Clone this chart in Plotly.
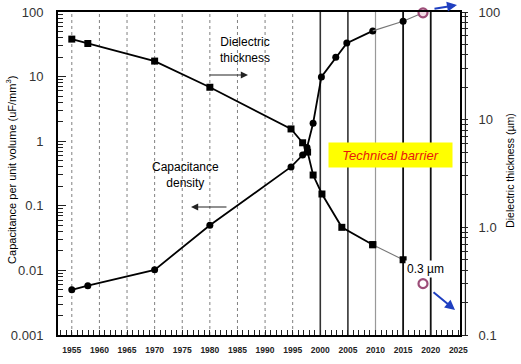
import plotly.graph_objects as go

# ---- data ----
cap_years = [1955, 1957.9, 1970, 1980, 1994.7, 1996.8, 1997.6, 1998.7, 2000.2, 2002.8, 2004.8, 2009.5]
cap_values = [0.005, 0.0058, 0.0102, 0.05, 0.40, 0.61, 0.80, 1.9, 9.9, 20, 33, 51]
cap_late_years = [2009.5, 2015, 2018.6]
cap_late_values = [51, 72, 97]

thk_years = [1955, 1957.9, 1970, 1980, 1994.7, 1996.8, 1997.7, 1998.7, 2000.3, 2003.9, 2009.5]
thk_values = [56, 51, 35, 20, 8.2, 6.1, 5.0, 3.06, 2.04, 1.0, 0.69]
thk_late_years = [2009.5, 2015]
thk_late_values = [0.69, 0.50]

proj_year = [2018.6]
proj_cap = [97]
proj_thk = [0.30]

x_ticks = list(range(1955, 2030, 5))
left_tickvals = [0.001, 0.01, 0.1, 1, 10, 100]
left_ticktext = ["0.001", "0.01", "0.1", "1", "10", "100"]
right_tickvals = [0.1, 1, 10, 100]
right_ticktext = ["0.1", "1.0", "10", "100"]

minor_left = [m * 10 ** e for e in range(-3, 2) for m in range(2, 10)]
minor_right = [m * 10 ** e for e in range(-1, 2) for m in range(2, 10)]

fig = go.Figure()

# capacitance density (left axis)
fig.add_trace(go.Scatter(x=cap_years, y=cap_values, mode="lines+markers",
                         line=dict(color="black", width=1.8),
                         marker=dict(symbol="circle", size=7, color="black"),
                         yaxis="y", showlegend=False))
fig.add_trace(go.Scatter(x=cap_late_years, y=cap_late_values, mode="lines",
                         line=dict(color="#777777", width=1.1),
                         yaxis="y", showlegend=False))
fig.add_trace(go.Scatter(x=cap_late_years[1:2], y=cap_late_values[1:2], mode="markers",
                         marker=dict(symbol="circle", size=7, color="black"),
                         yaxis="y", showlegend=False))

# dielectric thickness (right axis)
fig.add_trace(go.Scatter(x=thk_years, y=thk_values, mode="lines+markers",
                         line=dict(color="black", width=1.8),
                         marker=dict(symbol="square", size=7, color="black"),
                         yaxis="y2", showlegend=False))
fig.add_trace(go.Scatter(x=thk_late_years, y=thk_late_values, mode="lines+markers",
                         line=dict(color="#777777", width=1.1),
                         marker=dict(symbol="square", size=7, color="black"),
                         yaxis="y2", showlegend=False))

# projections (open pink circles)
fig.add_trace(go.Scatter(x=proj_year, y=proj_cap, mode="markers",
                         marker=dict(symbol="circle", size=9, color="#f3dbe6",
                                     line=dict(color="#9c4d78", width=2.2)),
                         yaxis="y", showlegend=False, cliponaxis=False))
fig.add_trace(go.Scatter(x=proj_year, y=proj_thk, mode="markers",
                         marker=dict(symbol="circle", size=9, color="white",
                                     line=dict(color="#9c4d78", width=2.2)),
                         yaxis="y2", showlegend=False))

# vertical grid lines
shapes = []
for yr in x_ticks[:-1]:
    if yr <= 1995:
        style = dict(color="#808080", width=1, dash="dot")
    elif yr == 2010:
        style = dict(color="#999999", width=1.2)
    elif yr in (2000, 2005):
        style = dict(color="#333333", width=1.6)
    else:
        style = dict(color="#111111", width=1.8)
    shapes.append(dict(type="line", xref="x", yref="paper", x0=yr, x1=yr, y0=0, y1=1,
                       line=style, layer="below"))
# outer rail of the right-hand ladder axis
shapes.append(dict(type="line", xref="paper", yref="paper", x0=1.0135, x1=1.0135, y0=0, y1=1,
                   line=dict(color="#222222", width=1.2)))

C = dict(xanchor="center", yanchor="middle")
annotations = [
    dict(text="Dielectric<br>thickness", xref="paper", yref="paper", x=0.465, y=0.882,
         showarrow=False, font=dict(size=12, color="black"), align="center", **C),
    dict(text="", xref="paper", yref="paper", x=0.4726, y=0.805, ax=-40, ay=0,
         showarrow=True, arrowhead=2, arrowsize=1.2, arrowwidth=1.2, arrowcolor="#222222"),
    dict(text="Capacitance<br>density", xref="paper", yref="paper", x=0.318, y=0.495,
         showarrow=False, font=dict(size=12, color="black"), align="center", **C),
    dict(text="", xref="paper", yref="paper", x=0.3308, y=0.3963, ax=37, ay=0,
         showarrow=True, arrowhead=2, arrowsize=1.2, arrowwidth=1.2, arrowcolor="#222222"),
    dict(text="<i>Technical barrier</i>", xref="paper", yref="paper", x=0.826, y=0.557,
         showarrow=False, font=dict(size=13, color="#e8160c"), bgcolor="#ffff00",
         width=119, height=20, borderpad=2, **C),
    dict(text="0.3 µm", xref="paper", yref="paper", x=0.915, y=0.204,
         showarrow=False, font=dict(size=12, color="black"), bgcolor="white", **C),
    dict(text="", xref="paper", yref="paper", x=0.9925, y=1.0217, ax=-24, ay=4,
         showarrow=True, arrowhead=2, arrowsize=1, arrowwidth=2, arrowcolor="#1f3fc0"),
    dict(text="", xref="paper", yref="paper", x=0.9876, y=0.0774, ax=-23, ay=-19,
         showarrow=True, arrowhead=2, arrowsize=1, arrowwidth=2, arrowcolor="#1f3fc0"),
    dict(text="Capacitance per unit volume (uF/mm<sup>3</sup>)", xref="paper", yref="paper",
         x=-0.117, y=0.511, textangle=-90, showarrow=False,
         font=dict(size=11, color="black"), **C),
    dict(text="Dielectric thickness (µm)", xref="paper", yref="paper",
         x=1.124, y=0.511, textangle=-90, showarrow=False,
         font=dict(size=10.5, color="black"), **C),
]

fig.update_layout(
    width=521, height=364,
    margin=dict(l=58, r=61, t=12, b=29, autoexpand=False),
    paper_bgcolor="white", plot_bgcolor="white",
    font=dict(family="Liberation Sans, Arial, sans-serif", color="#222222"),
    shapes=shapes, annotations=annotations,
    xaxis=dict(range=[1952.5, 2025.3], tickvals=x_ticks, ticks="inside", ticklen=5,
               tickwidth=1, tickcolor="#222222", showgrid=False, zeroline=False,
               showline=True, linecolor="black", linewidth=2, mirror=True,
               automargin=False,
               tickfont=dict(size=8.5, color="#222222", weight="bold"),
               ticklabelstandoff=6,
               minor=dict(dtick=1, ticks="inside", ticklen=5, tickcolor="#222222")),
    yaxis=dict(type="log", range=[-3, 2], tickvals=left_tickvals, ticktext=left_ticktext,
               ticks="inside", ticklen=8, tickcolor="#222222", showgrid=False,
               zeroline=False, showline=True, linecolor="black", linewidth=2,
               automargin=False,
               tickfont=dict(size=13, color="#333333"), ticklabelstandoff=10,
               minor=dict(tickvals=minor_left, ticks="inside", ticklen=5,
                          tickcolor="#222222", showgrid=False)),
    yaxis2=dict(type="log", range=[-1, 2], overlaying="y", side="right",
                tickvals=right_tickvals, ticktext=right_ticktext,
                ticks="outside", ticklen=6, tickcolor="#222222", showgrid=False,
                zeroline=False, showline=True, linecolor="black", linewidth=2,
                automargin=False,
                tickfont=dict(size=13, color="#333333"), ticklabelstandoff=8,
                minor=dict(tickvals=minor_right, ticks="outside", ticklen=6,
                           tickcolor="#222222", showgrid=False)),
)

# remove the page's default body margin so the figure sits at the window origin
fig.write_html("out.html", config={"displayModeBar": False},
               post_script="document.body.style.margin='0px';")
